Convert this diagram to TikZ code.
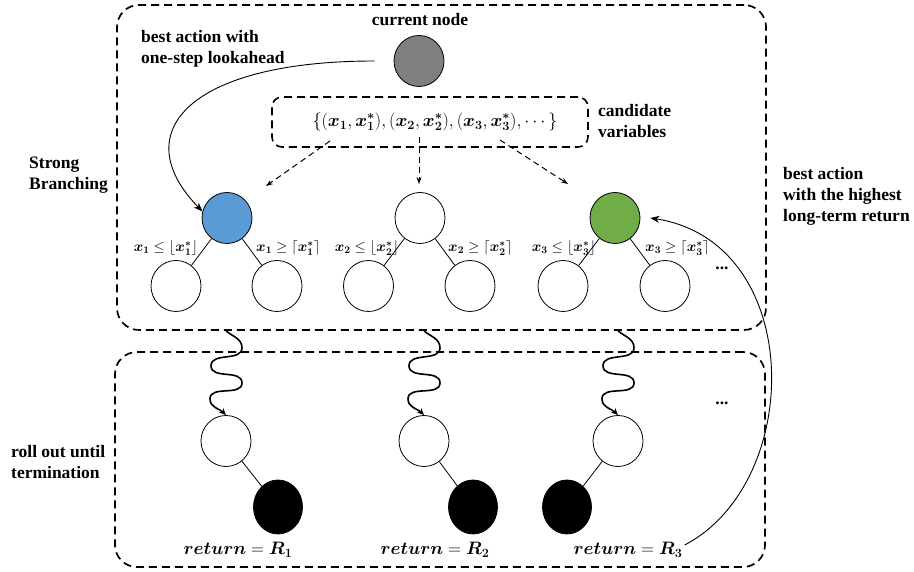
\RequirePackage{fix-cm}
\documentclass[tikz,border=0pt]{standalone}
\usepackage{amsmath}
\usepackage{bm}
\usepackage{fontspec}
\setmainfont{Liberation Serif}
\usetikzlibrary{arrows.meta,shapes.geometric}
\definecolor{nodeblue}{HTML}{5B9BD5}
\definecolor{nodegreen}{HTML}{70AD47}
\definecolor{nodegray}{HTML}{7F7F7F}
\newcommand\mywave[1]{%
  \draw[wavy] (#1.north |- topbox.south) to[out=-40,in=90] ++(16,-17)
     to[out=-90,in=90] ++(-31,-18) to[out=-90,in=90] ++(31,-17)
     to[out=-90,in=90] ++(-32,-16) to[out=-90,in=135] (#1.north);}
\begin{document}
\begin{tikzpicture}[x=1pt,y=1pt,
  lbl/.style={font=\fontsize{17.5}{21}\selectfont\bfseries, align=left, inner sep=0pt},
  mlbl/.style={font=\fontsize{14.5}{16}\selectfont, inner sep=0pt},
  rlbl/.style={font=\fontsize{18}{20}\selectfont, inner sep=0pt},
  nd/.style={ellipse, draw, line width=0.8pt, minimum width=50pt, minimum height=51pt, inner sep=0pt},
  blk/.style={nd, fill=black, minimum width=49pt, minimum height=54pt},
  bigbox/.style={draw, line width=1.7pt, dash pattern=on 8pt off 5pt, rounded corners=22pt, inner sep=0pt},
  candbox/.style={draw, line width=1.6pt, dash pattern=on 8pt off 5pt, rounded corners=10pt, inner sep=0pt},
  thin/.style={line width=0.8pt},
  arr/.style={line width=0.9pt, -{Stealth[length=9pt,width=7pt]}},
  darr/.style={line width=1pt, dash pattern=on 6pt off 4pt, -{Stealth[length=7pt,width=5pt]}},
  wavy/.style={line width=1.6pt, -{Stealth[length=7pt,width=6pt]}}]
\useasboundingbox (0,0) rectangle (914,572);

% containers
\node[bigbox, minimum width=649pt, minimum height=325pt] (topbox) at (441.5,404.5) {};
\node[bigbox, minimum width=650pt, minimum height=215pt] (botbox) at (440,112.5) {};

% current node
\node[nd, fill=nodegray] (cur) at (419,511) {};
\node[lbl] (curlbl) at (420,552) {current node};
\node[lbl, anchor=west] (lookahead) at (141,523.5) {best action with\\one-step lookahead};

% candidate set
\node[candbox, minimum width=316pt, minimum height=50pt] (cand) at (430,450) {};
\node[rlbl] (candtxt) at (435,450) {$\{(\bm{x_1},\bm{x_1^*}),(\bm{x_2},\bm{x_2^*}),(\bm{x_3},\bm{x_3^*}),\cdots\}$};
\node[lbl, anchor=west] (candlbl) at (598,450.5) {candidate\\variables};
\node[lbl, anchor=west] (sb) at (29,396.5) {Strong\\Branching};

% level 1
\node[nd, fill=nodeblue] (b1) at (227,354) {};
\node[nd] (b2) at (420,354) {};
\node[nd, fill=nodegreen] (b3) at (615,354) {};
\node[nd] (c11) at (176,286) {};
\node[nd] (c12) at (277,286) {};
\node[nd] (c21) at (368.5,286) {};
\node[nd] (c22) at (470,286) {};
\node[nd] (c31) at (563,286) {};
\node[nd] (c32) at (665,286) {};
\foreach \p/\c in {b1/c11,b1/c12,b2/c21,b2/c22,b3/c31,b3/c32}{\draw[thin] (\p) -- (\c);}

\node[mlbl, anchor=east] (l11) at (198,324) {$\bm{x_1}\le\lfloor \bm{x_1^*}\rfloor$};
\node[mlbl, anchor=west] (l12) at (256,324) {$\bm{x_1}\ge\lceil \bm{x_1^*}\rceil$};
\node[mlbl, anchor=east] (l21) at (399,324) {$\bm{x_2}\le\lfloor \bm{x_2^*}\rfloor$};
\node[mlbl, anchor=west] (l22) at (448,324) {$\bm{x_2}\ge\lceil \bm{x_2^*}\rceil$};
\node[mlbl, anchor=east] (l31) at (596,324) {$\bm{x_3}\le\lfloor \bm{x_3^*}\rfloor$};
\node[mlbl, anchor=west] (l32) at (645,324) {$\bm{x_3}\ge\lceil \bm{x_3^*}\rceil$};
\node[lbl] (dots1) at (722,304) {...};

% dashed arrows from candidates
\coordinate (a1s) at (330,431); \coordinate (a1e) at (266,386);
\coordinate (a2s) at (419,435); \coordinate (a2e) at (419,388);
\coordinate (a3s) at (500,432); \coordinate (a3e) at (568,388);
\draw[darr] (a1s) -- (a1e);
\draw[darr] (a2s) -- (a2e);
\draw[darr] (a3s) -- (a3e);

% lookahead curve
\draw[arr] ([xshift=-19pt]cur.west) .. controls (190,511) and (125,440) .. (b1.165);

% rollout
\node[nd] (d1) at (226,131) {};
\node[nd] (d2) at (424,131) {};
\node[nd] (d3) at (618,131) {};
\node[blk] (e1) at (278,65) {};
\node[blk] (e2) at (473,65) {};
\node[blk] (e3) at (567,65) {};
\draw[thin] (d1) -- (e1);
\draw[thin] (d2) -- (e2);
\draw[thin] (d3) -- (e3);
\mywave{d1}
\mywave{d2}
\mywave{d3}
\node[lbl] (dots2) at (722,169) {...};
\node[lbl, anchor=west] (rollout) at (11,109.5) {roll out until\\termination};

\node[rlbl] (r1) at (238,22) {$\bm{return}=\bm{R_1}$};
\node[rlbl] (r2) at (435,22) {$\bm{return}=\bm{R_2}$};
\node[rlbl] (r3) at (628,22) {$\bm{return}=\bm{R_3}$};

% best long-term action
\draw[arr] ([xshift=2pt,yshift=5pt]r3.east) .. controls (805,90) and (805,330) .. ([xshift=10pt]b3.east);
\node[lbl, anchor=west] (besttxt) at (783,376) {best action\\with the highest\\long-term return};
\end{tikzpicture}
\end{document}
